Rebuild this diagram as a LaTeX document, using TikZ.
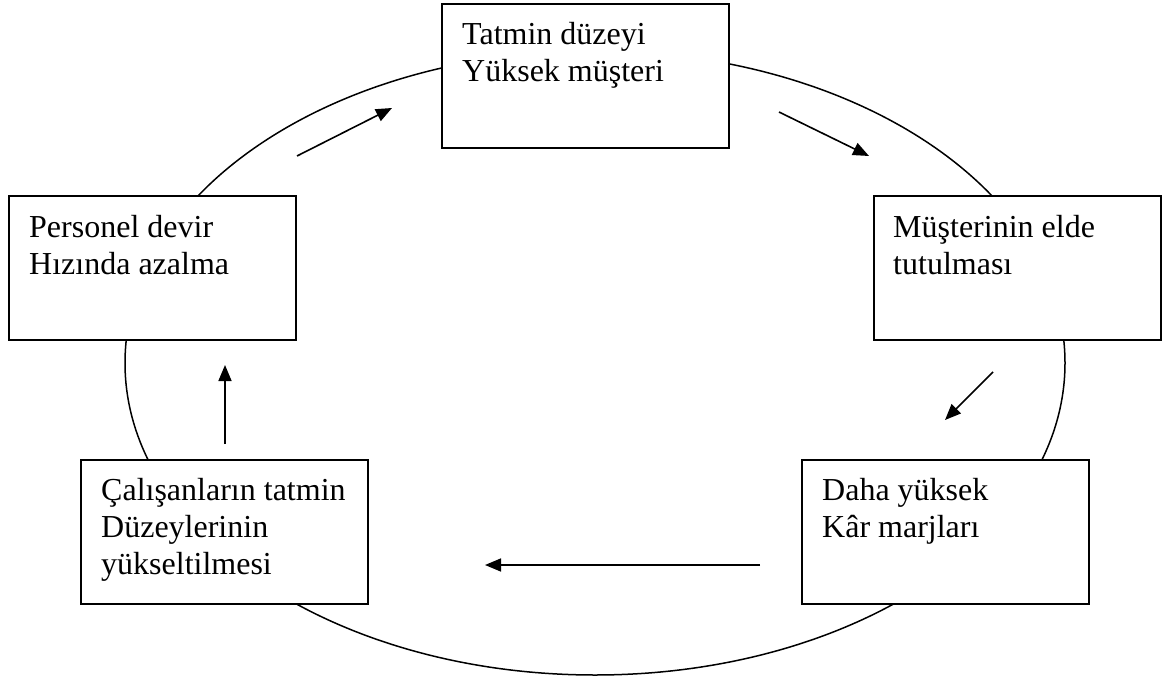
\documentclass[tikz,border=0pt]{standalone}
\usepackage{fontspec}
\setmainfont{Liberation Serif}
\usetikzlibrary{arrows.meta}
\begin{document}
\begin{tikzpicture}[x=1pt,y=-1pt,
  box/.style={draw, line width=1.6pt, fill=white, minimum width=287pt, minimum height=144pt, inner sep=0pt, anchor=north west},
  lbl/.style={anchor=base west, inner sep=0pt, font=\fontsize{32}{37}\selectfont},
  flow/.style={line width=1.6pt, -{Triangle[length=16pt,width=13pt]}}]
\useasboundingbox (0,0) rectangle (1162,679);
\draw[line width=1.5pt] (595,363) ellipse [x radius=470pt, y radius=312pt];
\node[box] (top) at (441,3) {};
\node[box] (left) at (8,195) {};
\node[box] (right) at (873,195) {};
\node[box] (bl) at (80,459) {};
\node[box] (br) at (801,459) {};
\node[lbl] (toptext) at (462,45) {\parbox[t]{265pt}{\raggedright Tatmin düzeyi\\Yüksek müşteri}};
\node[lbl] (lefttext) at (29,237) {\parbox[t]{265pt}{\raggedright Personel devir\\Hızında azalma}};
\node[lbl] (righttext) at (893,237) {\parbox[t]{265pt}{\raggedright Müşterinin elde\\tutulması}};
\node[lbl] (bltext) at (101,500) {\parbox[t]{265pt}{\raggedright Çalışanların tatmin\\Düzeylerinin\\yükseltilmesi}};
\node[lbl] (brtext) at (822,500) {\parbox[t]{265pt}{\raggedright Daha yüksek\\Kâr marjları}};
\coordinate (a1s) at (297,156); \coordinate (a1e) at (392,108);
\coordinate (a2s) at (779,112); \coordinate (a2e) at (869,156);
\coordinate (a3s) at (993,372); \coordinate (a3e) at (945,420);
\coordinate (a4s) at (760,565); \coordinate (a4e) at (485,565);
\coordinate (a5s) at (225,444); \coordinate (a5e) at (225,365);
\draw[flow] (a1s) -- (a1e);
\draw[flow] (a2s) -- (a2e);
\draw[flow] (a3s) -- (a3e);
\draw[flow] (a4s) -- (a4e);
\draw[flow] (a5s) -- (a5e);
\end{tikzpicture}
\end{document}
